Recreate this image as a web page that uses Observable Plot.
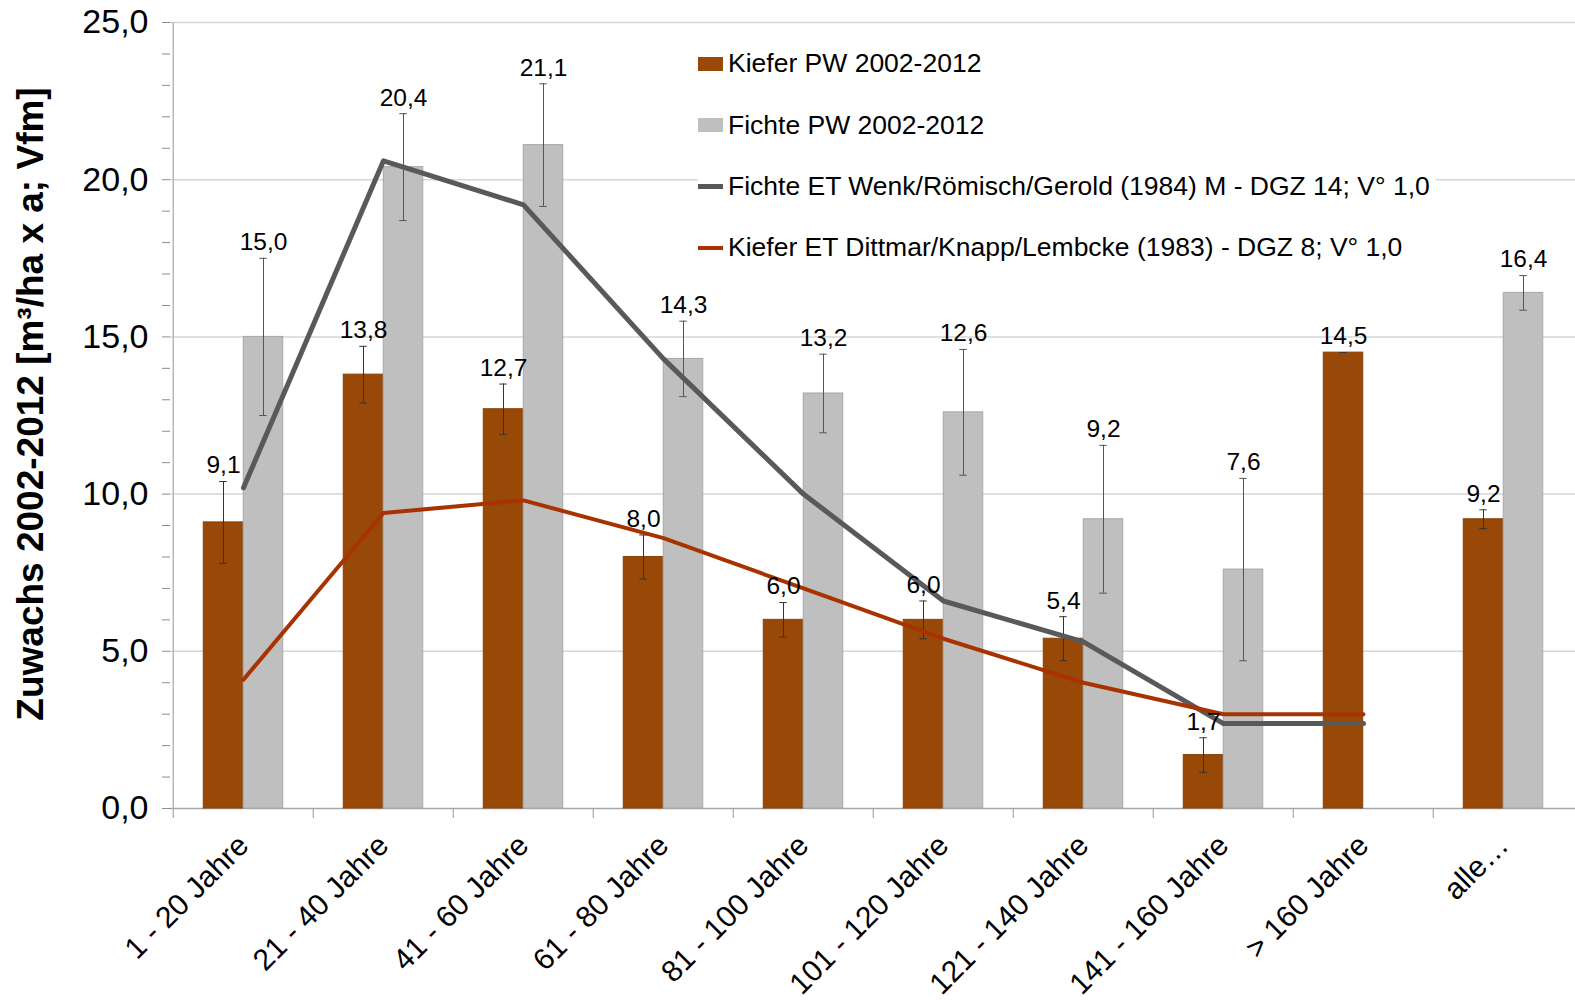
<!DOCTYPE html>
<html><head><meta charset="utf-8">
<script src="https://cdn.jsdelivr.net/npm/d3@7"></script>
<script src="https://cdn.jsdelivr.net/npm/@observablehq/plot@0.6"></script>
<style>
body{margin:0;background:#fff;font-family:"Liberation Sans",Arial,sans-serif;}
#wrap{position:relative;width:1575px;height:1000px;overflow:hidden;}
#legend{position:absolute;left:698px;top:33px;background:#fff;padding-right:6px;}
.row{height:61.4px;display:flex;align-items:center;font-size:26.5px;color:#000;white-space:nowrap;}
.sw{width:25px;margin-right:5px;}
#ytitle{position:absolute;left:31px;top:404px;transform:translate(-50%,-50%) rotate(-90deg);font-weight:bold;font-size:37px;white-space:nowrap;color:#000;}
svg g[aria-label^="y-axis"] line, svg g[aria-label="y-axis tick"] path{stroke:#8c8c8c;}
svg g[aria-label^="y-axis"] text{font-size:34px;}
</style>
</head><body>
<div id="wrap"></div>
<script>
const categories = ["1 - 20 Jahre","21 - 40 Jahre","41 - 60 Jahre","61 - 80 Jahre","81 - 100 Jahre","101 - 120 Jahre","121 - 140 Jahre","141 - 160 Jahre","> 160 Jahre","alle…"];
const kiefer    = [9.1, 13.8, 12.7, 8.0, 6.0, 6.0, 5.4, 1.7, 14.5, 9.2];
const kieferErr = [1.3, 0.9, 0.8, 0.7, 0.55, 0.6, 0.7, 0.55, 0, 0.3];
const fichte    = [15.0, 20.4, 21.1, 14.3, 13.2, 12.6, 9.2, 7.6, null, 16.4];
const fichteErr = [2.5, 1.7, 1.95, 1.2, 1.25, 2.0, 2.35, 2.9, null, 0.55];
const fichteET  = [10.2, 20.6, 19.2, 14.3, 10.0, 6.6, 5.3, 2.7, 2.7, null];
const kieferET  = [4.1, 9.4, 9.8, 8.6, 7.0, 5.4, 4.0, 3.0, 3.0, null];
const seriesNames = ["Kiefer PW 2002-2012","Fichte PW 2002-2012","Fichte ET Wenk/Römisch/Gerold (1984) M - DGZ 14; V° 1,0","Kiefer ET Dittmar/Knapp/Lembcke (1983) - DGZ 8; V° 1,0"];
const yTitle = "Zuwachs 2002-2012 [m³/ha x a; Vfm]";

const cK = "#984807", cF = "#bfbfbf", cFET = "#595959", cKET = "#a83300";

const rows = categories.map((c, i) => ({cat: c, k: kiefer[i], ke: kieferErr[i], f: fichte[i], fe: fichteErr[i], fet: fichteET[i], ket: kieferET[i]}));
const fRows = rows.filter(d => d.f != null);

const W = 1575, H = 1000, ML = 170, MR = 0, MT = 22, MB = 192;
const step = (W - ML - MR) / categories.length, half = step / 2, bw = 40, cap = 4;
const fmt = d => d.toFixed(1).replace(".", ",");

const plot = Plot.plot({
  width: W, height: H, marginLeft: ML, marginRight: MR, marginTop: MT, marginBottom: MB,
  style: {fontFamily: "Liberation Sans, Arial, sans-serif", fontSize: "30px", color: "#000", background: "transparent", overflow: "visible"},
  x: {domain: categories, padding: 0, tickSize: 0, tickRotate: -45, tickPadding: 32, label: null},
  y: {domain: [0, 25], ticks: d3.range(0, 26), tickFormat: d => d % 5 === 0 ? fmt(d) : "", tickSize: 8, tickPadding: 14, label: null},
  marks: [
    Plot.ruleY([5, 10, 15, 20, 25], {stroke: "#d6d6d6", strokeWidth: 1.5}),
    Plot.ruleX([categories[0]], {dx: -half, stroke: "#b8b8b8", strokeWidth: 1.5}),
    Plot.ruleY([0], {stroke: "#a6a6a6", strokeWidth: 1.5}),
    Plot.ruleX(categories, {x: d => d, y1: 0, y2: 0, dx: -half, insetBottom: -10, stroke: "#a6a6a6", strokeWidth: 1.2}),
    Plot.barY(rows, {x: "cat", y: "k", fill: cK, stroke: "#8a4206", strokeWidth: 1, insetLeft: half - bw, insetRight: half}),
    Plot.barY(fRows, {x: "cat", y: "f", fill: cF, stroke: "#a8a8a8", strokeWidth: 1, insetLeft: half, insetRight: half - bw}),
    Plot.ruleX(rows.filter(d => d.ke > 0), {x: "cat", y1: d => d.k - d.ke, y2: d => d.k + d.ke, dx: -bw / 2, stroke: "#333", strokeWidth: 1}),
    Plot.tickY(rows.filter(d => d.ke > 0), {x: "cat", y: d => d.k - d.ke, insetLeft: half - bw / 2 - cap, insetRight: half + bw / 2 - cap, stroke: "#333", strokeWidth: 1}),
    Plot.tickY(rows, {x: "cat", y: d => d.k + d.ke, insetLeft: half - bw / 2 - cap, insetRight: half + bw / 2 - cap, stroke: "#333", strokeWidth: 1}),
    Plot.ruleX(fRows, {x: "cat", y1: d => d.f - d.fe, y2: d => d.f + d.fe, dx: bw / 2, stroke: "#555", strokeWidth: 1}),
    Plot.tickY(fRows, {x: "cat", y: d => d.f - d.fe, insetLeft: half + bw / 2 - cap, insetRight: half - bw / 2 - cap, stroke: "#555", strokeWidth: 1}),
    Plot.tickY(fRows, {x: "cat", y: d => d.f + d.fe, insetLeft: half + bw / 2 - cap, insetRight: half - bw / 2 - cap, stroke: "#555", strokeWidth: 1}),
    Plot.line(rows, {x: "cat", y: "fet", stroke: cFET, strokeWidth: 5}),
    Plot.line(rows, {x: "cat", y: "ket", stroke: cKET, strokeWidth: 4}),
    Plot.text(rows, {x: "cat", y: d => d.k + d.ke, text: d => fmt(d.k), dx: -bw / 2, dy: -16, fontSize: 24.5, fill: "#000"}),
    Plot.text(fRows, {x: "cat", y: d => d.f + d.fe, text: d => fmt(d.f), dx: bw / 2, dy: -16, fontSize: 24.5, fill: "#000"})
  ]
});
const wrap = document.getElementById("wrap");
wrap.appendChild(plot);

const t = document.createElement("div");
t.id = "ytitle"; t.textContent = yTitle; wrap.appendChild(t);

const lg = document.createElement("div");
lg.id = "legend";
const swatches = [
  `<div class="sw" style="height:14px;background:${cK}"></div>`,
  `<div class="sw" style="height:14px;background:${cF}"></div>`,
  `<div class="sw" style="height:5px;background:${cFET}"></div>`,
  `<div class="sw" style="height:4px;background:${cKET}"></div>`
];
lg.innerHTML = seriesNames.map((n, i) => `<div class="row">${swatches[i]}<span>${n}</span></div>`).join("");
wrap.appendChild(lg);
</script>
</body></html>
